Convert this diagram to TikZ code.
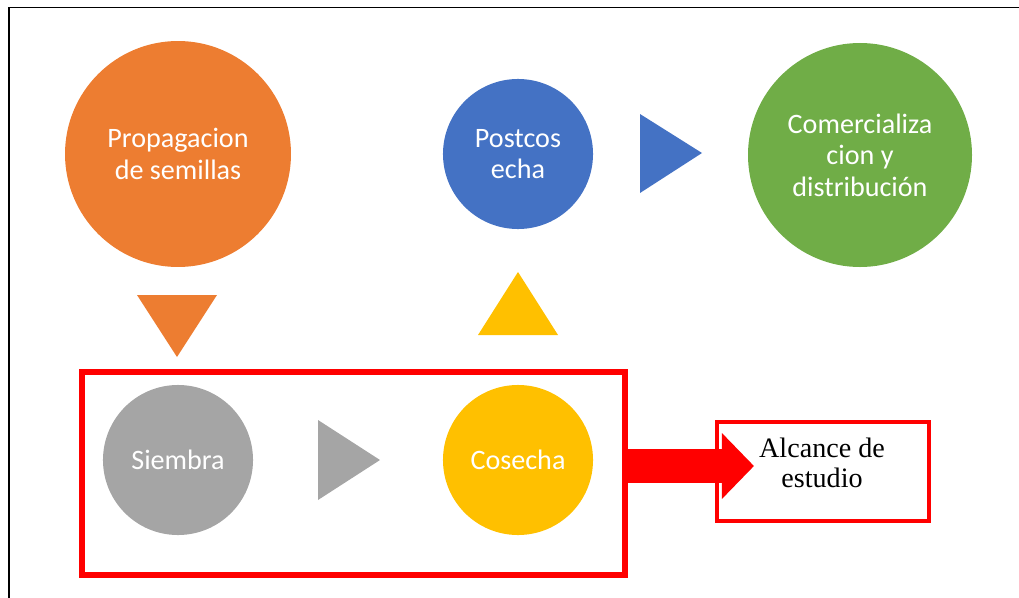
\documentclass[tikz,border=0pt]{standalone}
\usepackage{fontspec}
\setmainfont{Liberation Serif}
\newfontfamily\calibri{Carlito}
\usepackage{tikz}
\usetikzlibrary{arrows.meta,
                fit,
                positioning}
\definecolor{cOrange}{HTML}{ED7D31}
\definecolor{cBlue}{HTML}{4472C4}
\definecolor{cGreen}{HTML}{70AD47}
\definecolor{cGray}{HTML}{A5A5A5}
\definecolor{cYellow}{HTML}{FFC000}

\begin{document}
\begin{tikzpicture}[x=0.025cm, y=-0.025cm,
   CIR/.style = {circle, inner sep=0pt, align=center, text=white,
                 font=\calibri\fontsize{20}{22.4}\selectfont},
    CO/.style = {fill=cOrange},  %fill  Color Orange
    CB/.style = {fill=cBlue},    %fill  Color Blue
    CG/.style = {fill=cGreen},   %fill  Color Green
   CGr/.style = {fill=cGray},    %fill  Color Gray
    CY/.style = {fill=cYellow},  %fill  Color Yellow
   BOX/.style = {draw=red, inner sep=0pt},
  ARRW/.style = {red, line width=24.2pt,
                 -{Triangle[length=22.8pt, width=45.5pt]}}
                        ]
\useasboundingbox (0,0) rectangle (1019,598);
% frame
\draw[line width=1.4pt] (9,598) -- (9,7.5) -- (1019,7.5);
% top row
\node (prop)  [CIR, CO, minimum size=160.7pt] at (178,154) {Propagacion\\ de semillas};
\node (post)  [CIR, CB, minimum size=106.7pt] at (518,154) {Postcos\\ echa};
\node (comer) [CIR, CG, minimum size=159.3pt] at (860,155) {Comercializa\\ cion y\\ distribución};
% bottom row
\node (siem)  [CIR, CGr, minimum size=106.7pt] at (178,460) {Siembra};
\node (cose)  [CIR, CY,  minimum size=106.7pt] at (518,460) {Cosecha};
% triangles
\fill[cOrange] (137,295) -- (217,295) -- (177,357) -- cycle;
\fill[cYellow] (478,335) -- (558,335) -- (518,272) -- cycle;
\fill[cBlue]   (640,114) -- (640,193) -- (702,153) -- cycle;
\fill[cGray]   (318,420) -- (318,500) -- (380,460) -- cycle;
% scope boxes
\node (zona)    [BOX, line width=3.6pt, fit={(82,372) (625,575)}] {};
\node (alcance) [BOX, line width=2.5pt, fit={(717,422) (929,521)}] {};
\node (txt) [font=\fontsize{20}{21.5}\selectfont, align=center] at (822,463) {Alcance de\\ estudio};
\coordinate (tip) at (754,466);
\draw[ARRW] (zona.east |- tip) -- (tip);
\end{tikzpicture}
\end{document}
